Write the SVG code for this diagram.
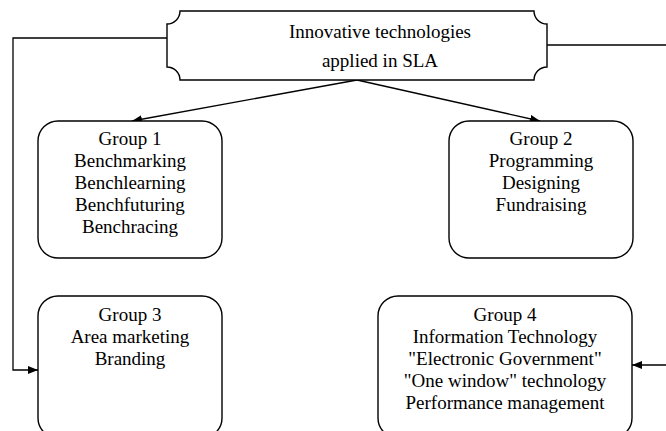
<svg xmlns="http://www.w3.org/2000/svg" width="666" height="431" viewBox="0 0 666 431">
  <defs>
    <style>
      .box { fill: #ffffff; stroke: #000000; stroke-width: 1.4; }
      .link { fill: none; stroke: #000000; stroke-width: 1.3; }
      text { font-family: "Liberation Serif", "Times New Roman", serif; font-size: 19px; fill: #000000; text-anchor: middle; }
    </style>
    <marker id="arrow" viewBox="0 0 10 8" refX="10" refY="4" markerWidth="10" markerHeight="8" markerUnits="userSpaceOnUse" orient="auto">
      <path d="M0,0 L10,4 L0,8 Z" fill="#000000"/>
    </marker>
  </defs>
  <rect width="666" height="431" fill="#ffffff"/>

  <g id="connectors">
    <polyline class="link" points="167,38 13,38 13,370 38,370" marker-end="url(#arrow)"/>
    <line class="link" x1="547" y1="45" x2="666" y2="45"/>
    <line class="link" x1="666" y1="365" x2="632" y2="365" marker-end="url(#arrow)"/>
    <line class="link" x1="357" y1="80" x2="132" y2="121" marker-end="url(#arrow)"/>
    <line class="link" x1="357" y1="80" x2="540" y2="121" marker-end="url(#arrow)"/>
  </g>

  <g id="root">
    <path class="box" d="M180,11 H534 A13,13 0 0 0 547,24 V67 A13,13 0 0 0 534,80 H180 A13,13 0 0 0 167,67 V24 A13,13 0 0 0 180,11 Z"/>
    <text x="380" y="38">Innovative technologies</text>
    <text x="380" y="67">applied in SLA</text>
  </g>

  <g id="group1">
    <rect class="box" x="38" y="121" width="184" height="137" rx="20" ry="20"/>
    <text x="130" y="145">Group 1</text>
    <text x="130" y="167">Benchmarking</text>
    <text x="130" y="189">Benchlearning</text>
    <text x="130" y="211">Benchfuturing</text>
    <text x="130" y="233">Benchracing</text>
  </g>

  <g id="group2">
    <rect class="box" x="449" y="121" width="184" height="137" rx="20" ry="20"/>
    <text x="541" y="145">Group 2</text>
    <text x="541" y="167">Programming</text>
    <text x="541" y="189">Designing</text>
    <text x="541" y="211">Fundraising</text>
  </g>

  <g id="group3">
    <rect class="box" x="38" y="296" width="184" height="142" rx="20" ry="20"/>
    <text x="130" y="321">Group 3</text>
    <text x="130" y="343">Area marketing</text>
    <text x="130" y="365">Branding</text>
  </g>

  <g id="group4">
    <rect class="box" x="378" y="296" width="254" height="142" rx="20" ry="20"/>
    <text x="505" y="321">Group 4</text>
    <text x="505" y="343">Information Technology</text>
    <text x="505" y="365">"Electronic Government"</text>
    <text x="505" y="387">"One window" technology</text>
    <text x="505" y="409">Performance management</text>
  </g>
</svg>
